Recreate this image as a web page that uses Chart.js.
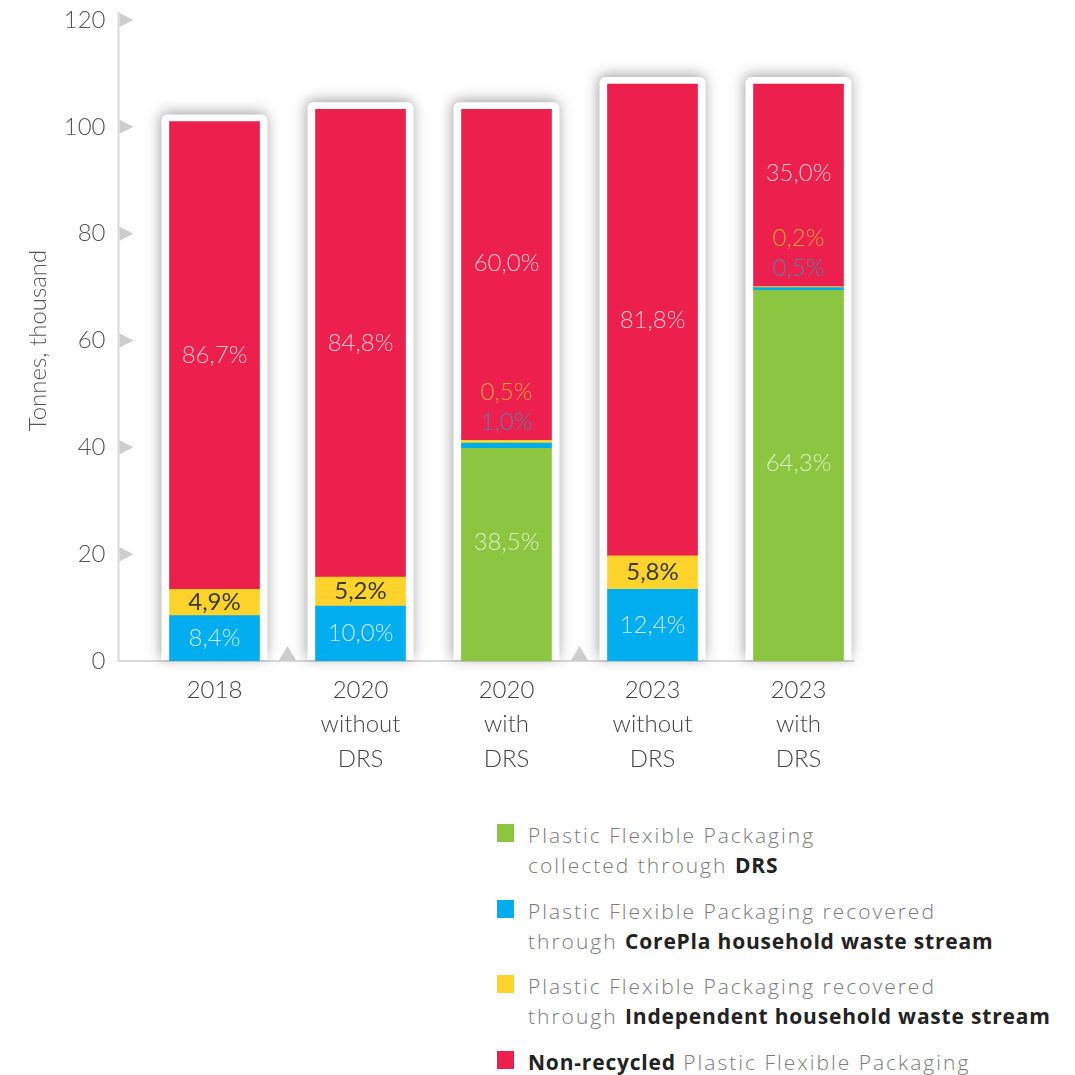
<!DOCTYPE html>
<html>
<head>
<meta charset="utf-8">
<script src="https://cdn.jsdelivr.net/npm/chart.js@4"></script>
<style>
  body { margin: 0; background: #fff; font-family: 'Open Sans', sans-serif; }
  #wrap { position: relative; width: 1075px; height: 1075px; overflow: hidden; }
  #legend { position: absolute; left: 497px; top: 820px; }
  .item { position: relative; height: 75.5px; padding-left: 31px; font-size: 21px; line-height: 30px; color: #7a7a7a; font-weight: 300; letter-spacing: 2px; white-space: nowrap; }
  .item b { color: #222; font-weight: 700; letter-spacing: 0.8px; }
  .sw { position: absolute; left: 0; top: 4px; width: 17px; height: 18px; }
</style>
</head>
<body>
<div id="wrap">
  <canvas id="chart" width="1075" height="800"></canvas>
  <div id="legend">
    <div class="item"><span class="sw" style="background:#8cc540"></span>Plastic Flexible Packaging<br>collected through <b>DRS</b></div>
    <div class="item"><span class="sw" style="background:#00aeef"></span>Plastic Flexible Packaging recovered<br>through <b>CorePla household waste stream</b></div>
    <div class="item"><span class="sw" style="background:#fed42c"></span>Plastic Flexible Packaging recovered<br>through <b>Independent household waste stream</b></div>
    <div class="item"><span class="sw" style="background:#ec1f4d"></span><b>Non-recycled</b> Plastic Flexible Packaging</div>
  </div>
</div>
<script>
// categories (multi-line x labels) and the group each one belongs to
const categories = [['2018'], ['2020', 'without', 'DRS'], ['2020', 'with', 'DRS'], ['2023', 'without', 'DRS'], ['2023', 'with', 'DRS']];
const groups = ['2018', '2020', '2020', '2023', '2023'];

// tonnes, thousand
const drsValues = [null, null, 39.8, null, 69.4];
const coreplaValues = [8.5, 10.3, 1.0, 13.4, 0.5];
const independentValues = [4.9, 5.4, 0.5, 6.3, 0.2];
const nonRecycledValues = [87.6, 87.6, 62.0, 88.3, 37.9];

// share labels printed on the bars
const drsLabels = [null, null, '38,5%', null, '64,3%'];
const coreplaLabels = ['8,4%', '10,0%', '1,0%', '12,4%', '0,5%'];
const independentLabels = ['4,9%', '5,2%', '0,5%', '5,8%', '0,2%'];
const nonRecycledLabels = ['86,7%', '84,8%', '60,0%', '81,8%', '35,0%'];

const yTicks = [0, 20, 40, 60, 80, 100, 120];

const FONT = 'Lato, "Open Sans", sans-serif';

// axis lines + little triangles, drawn under the bars
const axisDecor = {
  id: 'axisDecor',
  beforeDatasetsDraw(chart) {
    const { ctx, chartArea, scales } = chart;
    const ax = chartArea.left - 23;
    const bottom = chartArea.bottom;
    ctx.save();
    ctx.strokeStyle = '#d9d9d9';
    ctx.lineWidth = 2;
    ctx.beginPath();
    ctx.moveTo(ax, chartArea.top - 8);
    ctx.lineTo(ax, bottom);
    ctx.lineTo(chartArea.right - 17, bottom);
    ctx.stroke();

    ctx.fillStyle = '#cdcdcd';
    scales.y.ticks.forEach(t => {
      if (t.value === 0) return;
      const y = scales.y.getPixelForValue(t.value);
      ctx.beginPath();
      ctx.moveTo(ax + 1, y - 7);
      ctx.lineTo(ax + 15, y);
      ctx.lineTo(ax + 1, y + 7);
      ctx.fill();
    });
    for (let i = 1; i < groups.length; i++) {
      if (groups[i] === groups[i - 1]) continue;
      const x = scales.x.getPixelForValue(i - 0.5);
      ctx.beginPath();
      ctx.moveTo(x - 9, bottom);
      ctx.lineTo(x, bottom - 15);
      ctx.lineTo(x + 9, bottom);
      ctx.fill();
    }
    ctx.restore();

    // white frames with a soft shadow behind each stack
    chart.data.labels.forEach((_, i) => {
      let top = Infinity, x = 0, w = 0;
      chart.data.datasets.forEach((ds, d) => {
        const el = chart.getDatasetMeta(d).data[i];
        if (ds.data[i] == null || !el) return;
        top = Math.min(top, el.y);
        x = el.x;
        w = el.width;
      });
      ctx.save();
      ctx.shadowColor = 'rgba(0,0,0,0.38)';
      ctx.shadowBlur = 14;
      ctx.shadowOffsetX = -1;
      ctx.shadowOffsetY = -2;
      ctx.fillStyle = '#fff';
      ctx.beginPath();
      ctx.roundRect(x - w / 2 - 8, top - 7, w + 16, bottom - top + 6, [6, 6, 0, 0]);
      ctx.fill();
      ctx.restore();
    });
  }
};

// percentage labels inside / above the segments
const barLabels = {
  id: 'barLabels',
  afterDatasetsDraw(chart) {
    const { ctx } = chart;
    ctx.save();
    ctx.textAlign = 'center';
    ctx.textBaseline = 'middle';
    chart.data.labels.forEach((_, i) => {
      const small = [];
      let stackTop = null;
      chart.data.datasets.forEach((ds, d) => {
        const el = chart.getDatasetMeta(d).data[i];
        if (ds.data[i] == null || !el) return;
        if (!ds.isTop) stackTop = el.y;
        if (el.base - el.y < 18) small.push(ds);
      });
      const shift = small.length ? -12 : 0;
      chart.data.datasets.forEach((ds, d) => {
        const el = chart.getDatasetMeta(d).data[i];
        const txt = ds.shares[i];
        if (ds.data[i] == null || !el || !txt) return;
        if (small.includes(ds)) return;
        ctx.fillStyle = ds.labelColor;
        ctx.font = (ds.labelWeight || 300) + ' 24px ' + FONT;
        ctx.fillText(txt, el.x, (el.y + el.base) / 2 + shift);
      });
      const x = chart.getDatasetMeta(1).data[i].x;
      small.forEach((ds, k) => {
        ctx.fillStyle = ds.smallColor;
        ctx.font = '300 24px ' + FONT;
        ctx.fillText(ds.shares[i], x, stackTop - 18 - 30 * k);
      });
    });
    ctx.restore();
  }
};

new Chart(document.getElementById('chart'), {
  type: 'bar',
  data: {
    labels: categories,
    datasets: [
      { label: 'DRS', data: drsValues, shares: drsLabels, backgroundColor: '#8cc540',
        labelColor: '#dcefc4', smallColor: '#dcefc4' },
      { label: 'CorePla', data: coreplaValues, shares: coreplaLabels, backgroundColor: '#00aeef',
        labelColor: '#c8edfc', smallColor: '#5c7fa6' },
      { label: 'Independent', data: independentValues, shares: independentLabels, backgroundColor: '#fed42c',
        labelColor: '#3b3a2c', labelWeight: 400, smallColor: '#f6a436' },
      { label: 'Non-recycled', data: nonRecycledValues, shares: nonRecycledLabels, backgroundColor: '#ec1f4d',
        labelColor: '#fbc6d1', smallColor: '#fbc6d1', isTop: true }
    ]
  },
  options: {
    responsive: false,
    animation: false,
    barThickness: 90,
    layout: { padding: { top: 20, left: 0, right: 203.5, bottom: 0 } },
    plugins: { legend: { display: false }, tooltip: { enabled: false } },
    scales: {
      x: {
        stacked: true,
        offset: true,
        grid: { display: false, drawTicks: false },
        border: { display: false },
        ticks: { color: '#444', padding: 12, font: { family: FONT, size: 24, weight: 300, lineHeight: 1.43 } },
        afterFit(s) { s.height = 139; }
      },
      y: {
        stacked: true,
        min: 0,
        max: 120,
        afterBuildTicks(s) { s.ticks = yTicks.map(v => ({ value: v })); },
        grid: { display: false, drawTicks: false },
        border: { display: false },
        ticks: { color: '#555', padding: 36, font: { family: FONT, size: 24, weight: 300 } },
        title: { display: true, text: 'Tonnes, thousand', color: '#555', padding: { top: 24, bottom: 0 },
          font: { family: FONT, size: 24, weight: 300 } },
        afterFit(s) {
          s.width = 141.5;
          // tick padding is also added above/below the axis; keep the plot tall
          s.paddingTop = 14;
          s.paddingBottom = 14;
        }
      }
    }
  },
  plugins: [axisDecor, barLabels]
});
</script>
</body>
</html>
